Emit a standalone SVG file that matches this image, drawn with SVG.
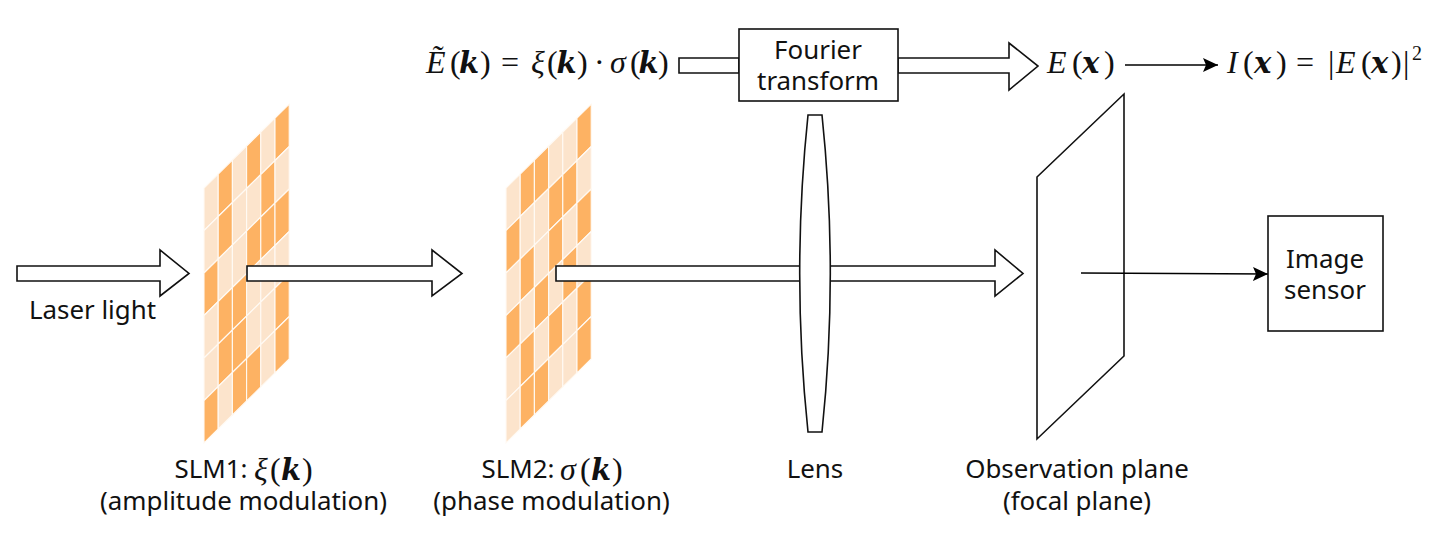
<svg xmlns="http://www.w3.org/2000/svg" width="1441" height="548" viewBox="0 0 1441 548">
<style>
.d{fill:#fdb263}.l{fill:#fce4cc}
.c{stroke:#fffaf4;stroke-width:1.1}
.s{fill:#fff;stroke:#111;stroke-width:1.6}
.n{fill:none;stroke:#000;stroke-width:1.6}
.t{font-family:"Noto Sans","Open Sans",sans-serif;font-size:25.9px;fill:#111;text-anchor:middle}
.m{font-family:"Liberation Serif",serif;font-size:32px;fill:#111}
.i{font-style:italic}.b{font-family:"DejaVu Serif",serif;font-size:29px;font-style:italic;font-weight:bold}
</style>
<defs>
<marker id="ah" markerWidth="16" markerHeight="16" refX="15" refY="8" orient="auto" markerUnits="userSpaceOnUse"><path d="M0 1L15 8L0 15L3 8Z" fill="#000"/></marker>
<path id="cd" class="d c" d="M0 0L14.2 -14V28.5L0 42.5Z"/>
<path id="cl" class="l c" d="M0 0L14.2 -14V28.5L0 42.5Z"/>
</defs>
<g id="slm1">
<use href="#cl" x="204" y="188"/><use href="#cl" x="204" y="230.5"/><use href="#cd" x="204" y="273"/><use href="#cl" x="204" y="315.5"/><use href="#cl" x="204" y="358"/><use href="#cd" x="204" y="400.5"/>
<use href="#cd" x="218.200" y="174"/><use href="#cd" x="218.200" y="216.500"/><use href="#cl" x="218.200" y="259"/><use href="#cd" x="218.200" y="301.500"/><use href="#cd" x="218.200" y="344"/><use href="#cl" x="218.200" y="386.500"/>
<use href="#cl" x="232.400" y="160"/><use href="#cl" x="232.400" y="202.500"/><use href="#cl" x="232.400" y="245"/><use href="#cd" x="232.400" y="287.500"/><use href="#cd" x="232.400" y="330"/><use href="#cd" x="232.400" y="372.500"/>
<use href="#cd" x="246.600" y="146"/><use href="#cl" x="246.600" y="188.500"/><use href="#cd" x="246.600" y="231"/><use href="#cl" x="246.600" y="273.500"/><use href="#cl" x="246.600" y="316"/><use href="#cd" x="246.600" y="358.500"/>
<use href="#cl" x="260.800" y="132"/><use href="#cd" x="260.800" y="174.500"/><use href="#cd" x="260.800" y="217"/><use href="#cl" x="260.800" y="259.500"/><use href="#cl" x="260.800" y="302"/><use href="#cl" x="260.800" y="344.500"/>
<use href="#cd" x="275" y="118"/><use href="#cl" x="275" y="160.500"/><use href="#cd" x="275" y="203"/><use href="#cl" x="275" y="245.500"/><use href="#cd" x="275" y="288"/><use href="#cd" x="275" y="330.500"/>
</g>
<g id="slm2">
<use href="#cl" x="506" y="188"/><use href="#cd" x="506" y="230.5"/><use href="#cl" x="506" y="273"/><use href="#cd" x="506" y="315.5"/><use href="#cl" x="506" y="358"/><use href="#cl" x="506" y="400.5"/>
<use href="#cd" x="520.200" y="174"/><use href="#cl" x="520.200" y="216.500"/><use href="#cd" x="520.200" y="259"/><use href="#cl" x="520.200" y="301.500"/><use href="#cd" x="520.200" y="344"/><use href="#cd" x="520.200" y="386.500"/>
<use href="#cd" x="534.400" y="160"/><use href="#cl" x="534.400" y="202.500"/><use href="#cl" x="534.400" y="245"/><use href="#cd" x="534.400" y="287.500"/><use href="#cl" x="534.400" y="330"/><use href="#cd" x="534.400" y="372.500"/>
<use href="#cl" x="548.600" y="146"/><use href="#cd" x="548.600" y="188.500"/><use href="#cd" x="548.600" y="231"/><use href="#cl" x="548.600" y="273.500"/><use href="#cd" x="548.600" y="316"/><use href="#cl" x="548.600" y="358.500"/>
<use href="#cl" x="562.800" y="132"/><use href="#cd" x="562.800" y="174.500"/><use href="#cl" x="562.800" y="217"/><use href="#cd" x="562.800" y="259.500"/><use href="#cl" x="562.800" y="302"/><use href="#cl" x="562.800" y="344.500"/>
<use href="#cd" x="577" y="118"/><use href="#cl" x="577" y="160.500"/><use href="#cd" x="577" y="203"/><use href="#cl" x="577" y="245.500"/><use href="#cd" x="577" y="288"/><use href="#cd" x="577" y="330.500"/>
</g>
<g id="plane"><path class="s" d="M1037 177L1124 94V356L1037 439Z"/><text class="t" x="1077" y="478">Observation plane</text><text class="t" x="1077" y="510">(focal plane)</text></g>
<g id="connectors">
<path class="s" d="M17 266H160V250L189 273.500L160 296V281H17Z"/>
<path class="s" d="M247 266H432V250L462 273.500L432 296V281H247Z"/>
<path class="s" d="M556 266H995V250L1023 273.500L995 296V281H556Z"/>
<path class="s" d="M679 58H739V73H679Z"/>
<path class="s" d="M898 58H1009V43L1038 66L1009 90V73H898Z"/>
<path class="n" d="M1125 65H1218" marker-end="url(#ah)"/>
<path class="n" d="M1081 273L1268 274" marker-end="url(#ah)"/>
</g>
<g id="fourier"><rect class="s" x="739" y="29" width="159" height="72"/><text class="t" x="818" y="59">Fourier</text><text class="t" x="818" y="90">transform</text></g>
<g id="lens"><path class="s" d="M808 115H822C833 220 833 327 822 432H808C797 327 797 220 808 115Z"/><text class="t" x="815" y="478">Lens</text></g>
<g id="sensor"><rect class="s" x="1268" y="216" width="115" height="115"/><text class="t" x="1325" y="268">Image</text><text class="t" x="1325" y="299">sensor</text></g>
<g id="laser"><text class="t" x="92.500" y="319">Laser light</text></g>
<g id="slm1-label"><text class="t" x="243.500" y="510">(amplitude modulation)</text><text class="t" x="211" y="478">SLM1:</text><text class="m" y="480"><tspan class="i" x="254">ξ</tspan><tspan x="270">(</tspan><tspan class="b" x="281">k</tspan><tspan x="302">)</tspan></text></g>
<g id="slm2-label"><text class="t" x="551.500" y="510">(phase modulation)</text><text class="t" x="518" y="478">SLM2:</text><text class="m" y="480"><tspan class="i" x="560">σ</tspan><tspan x="580">(</tspan><tspan class="b" x="591">k</tspan><tspan x="612">)</tspan></text></g>
<g id="eq1"><text class="m" y="73"><tspan class="i" x="426">Ẽ</tspan><tspan x="450">(</tspan><tspan class="b" x="459">k</tspan><tspan x="480">)</tspan><tspan x="501">=</tspan><tspan class="i" x="531">ξ</tspan><tspan x="547">(</tspan><tspan class="b" x="556.500">k</tspan><tspan x="577">)</tspan><tspan x="594">·</tspan><tspan class="i" x="610">σ</tspan><tspan x="630">(</tspan><tspan class="b" x="638.500">k</tspan><tspan x="658">)</tspan></text></g>
<g id="eq2"><text class="m" y="73"><tspan class="i" x="1047">E</tspan><tspan x="1072">(</tspan><tspan class="b" x="1082">x</tspan><tspan x="1104">)</tspan></text></g>
<g id="eq3"><text class="m" y="73"><tspan class="i" x="1227">I</tspan><tspan x="1243">(</tspan><tspan class="b" x="1254">x</tspan><tspan x="1276">)</tspan><tspan x="1296">=</tspan><tspan x="1328">|</tspan><tspan class="i" x="1336">E</tspan><tspan x="1361">(</tspan><tspan class="b" x="1371">x</tspan><tspan x="1391">)</tspan><tspan x="1403">|</tspan></text><text class="m" x="1412" y="60" style="font-size:20px">2</text></g>
</svg>
